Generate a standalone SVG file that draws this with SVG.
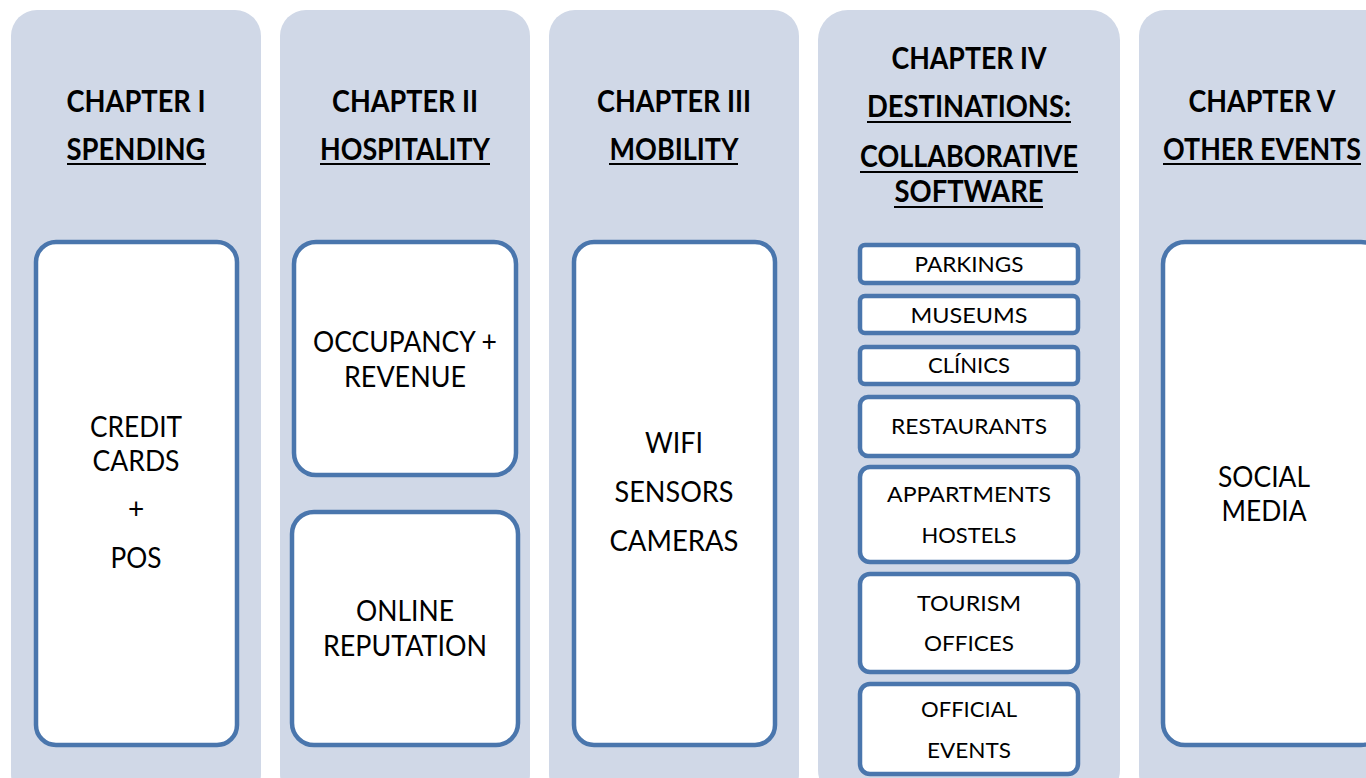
<svg xmlns="http://www.w3.org/2000/svg" width="1366" height="778" viewBox="0 0 1366 778">
<style>
.col{fill:#d0d8e7;stroke:none}
.box{fill:#ffffff;stroke:#4a76ad;stroke-width:4.5}
.h{font-family:Lato,"Liberation Sans",sans-serif;font-weight:bold;font-size:30px;fill:#000;text-anchor:middle}
.t{font-family:Lato,"Liberation Sans",sans-serif;font-size:28px;fill:#000;text-anchor:middle}
.s{font-family:Lato,"Liberation Sans",sans-serif;font-size:22px;fill:#000;text-anchor:middle}
.u{stroke:#000;stroke-width:2}
</style>
<rect width="1366" height="778" fill="#ffffff"/>
<g id="chapter1">
<rect class="col" x="11" y="10" width="250" height="790" rx="26"/>
<text class="h" x="136" y="112" textLength="139" lengthAdjust="spacingAndGlyphs">CHAPTER I</text>
<text class="h" x="136" y="160" textLength="139" lengthAdjust="spacingAndGlyphs">SPENDING</text>
<line class="u" x1="67" y1="164" x2="206" y2="164"/>
<rect class="box" x="36" y="242" width="201" height="503" rx="20"/>
<text class="t" x="136" y="437" textLength="92" lengthAdjust="spacingAndGlyphs">CREDIT</text>
<text class="t" x="136" y="471" textLength="87" lengthAdjust="spacingAndGlyphs">CARDS</text>
<text class="t" x="136" y="519">+</text>
<text class="t" x="136" y="568" textLength="51" lengthAdjust="spacingAndGlyphs">POS</text>
</g>
<g id="chapter2">
<rect class="col" x="280" y="10" width="250" height="790" rx="26"/>
<text class="h" x="405" y="112" textLength="146" lengthAdjust="spacingAndGlyphs">CHAPTER II</text>
<text class="h" x="405" y="160" textLength="170" lengthAdjust="spacingAndGlyphs">HOSPITALITY</text>
<line class="u" x1="320" y1="164" x2="490" y2="164"/>
<rect class="box" x="294" y="242" width="222" height="233" rx="22"/>
<text class="t" x="405" y="352" textLength="184" lengthAdjust="spacingAndGlyphs">OCCUPANCY +</text>
<text class="t" x="405" y="387" textLength="122" lengthAdjust="spacingAndGlyphs">REVENUE</text>
<rect class="box" x="292" y="512" width="226" height="233" rx="22"/>
<text class="t" x="405" y="621" textLength="98" lengthAdjust="spacingAndGlyphs">ONLINE</text>
<text class="t" x="405" y="656" textLength="164" lengthAdjust="spacingAndGlyphs">REPUTATION</text>
</g>
<g id="chapter3">
<rect class="col" x="549" y="10" width="250" height="790" rx="26"/>
<text class="h" x="674" y="112" textLength="154" lengthAdjust="spacingAndGlyphs">CHAPTER III</text>
<text class="h" x="674" y="160" textLength="129" lengthAdjust="spacingAndGlyphs">MOBILITY</text>
<line class="u" x1="609" y1="164" x2="738" y2="164"/>
<rect class="box" x="574" y="242" width="201" height="503" rx="20"/>
<text class="t" x="674" y="453" textLength="58" lengthAdjust="spacingAndGlyphs">WIFI</text>
<text class="t" x="674" y="502" textLength="119" lengthAdjust="spacingAndGlyphs">SENSORS</text>
<text class="t" x="674" y="551" textLength="129" lengthAdjust="spacingAndGlyphs">CAMERAS</text>
</g>
<g id="chapter4">
<rect class="col" x="818" y="10" width="302" height="790" rx="30"/>
<text class="h" x="969" y="69" textLength="155" lengthAdjust="spacingAndGlyphs">CHAPTER IV</text>
<text class="h" x="969" y="117" textLength="204" lengthAdjust="spacingAndGlyphs">DESTINATIONS:</text>
<line class="u" x1="867" y1="122" x2="1071" y2="122"/>
<text class="h" x="969" y="167" textLength="218" lengthAdjust="spacingAndGlyphs">COLLABORATIVE</text>
<line class="u" x1="860" y1="172" x2="1078" y2="172"/>
<text class="h" x="969" y="202" textLength="149" lengthAdjust="spacingAndGlyphs">SOFTWARE</text>
<line class="u" x1="894" y1="207" x2="1043" y2="207"/>
<rect class="box" x="860" y="245" width="218" height="38" rx="5"/>
<text class="s" x="969" y="272" textLength="109" lengthAdjust="spacingAndGlyphs">PARKINGS</text>
<rect class="box" x="860" y="296" width="218" height="37" rx="5"/>
<text class="s" x="969" y="323" textLength="117" lengthAdjust="spacingAndGlyphs">MUSEUMS</text>
<rect class="box" x="860" y="347" width="218" height="37" rx="5"/>
<text class="s" x="969" y="373" textLength="82" lengthAdjust="spacingAndGlyphs">CLÍNICS</text>
<rect class="box" x="860" y="397" width="218" height="59" rx="8"/>
<text class="s" x="969" y="434" textLength="156" lengthAdjust="spacingAndGlyphs">RESTAURANTS</text>
<rect class="box" x="860" y="467" width="218" height="95" rx="10"/>
<text class="s" x="969" y="502" textLength="164" lengthAdjust="spacingAndGlyphs">APPARTMENTS</text>
<text class="s" x="969" y="543" textLength="95" lengthAdjust="spacingAndGlyphs">HOSTELS</text>
<rect class="box" x="860" y="574" width="218" height="98" rx="10"/>
<text class="s" x="969" y="611" textLength="104" lengthAdjust="spacingAndGlyphs">TOURISM</text>
<text class="s" x="969" y="651" textLength="90" lengthAdjust="spacingAndGlyphs">OFFICES</text>
<rect class="box" x="860" y="684" width="218" height="90" rx="10"/>
<text class="s" x="969" y="717" textLength="96" lengthAdjust="spacingAndGlyphs">OFFICIAL</text>
<text class="s" x="969" y="758" textLength="84" lengthAdjust="spacingAndGlyphs">EVENTS</text>
</g>
<g id="chapter5">
<rect class="col" x="1139" y="10" width="260" height="790" rx="26"/>
<text class="h" x="1262" y="112" textLength="147" lengthAdjust="spacingAndGlyphs">CHAPTER V</text>
<text class="h" x="1262" y="160" textLength="198" lengthAdjust="spacingAndGlyphs">OTHER EVENTS</text>
<line class="u" x1="1163" y1="164" x2="1361" y2="164"/>
<rect class="box" x="1163" y="242" width="220" height="503" rx="22"/>
<text class="t" x="1264" y="487" textLength="92" lengthAdjust="spacingAndGlyphs">SOCIAL</text>
<text class="t" x="1264" y="521" textLength="85" lengthAdjust="spacingAndGlyphs">MEDIA</text>
</g>
<g id="connectors"/>
</svg>
